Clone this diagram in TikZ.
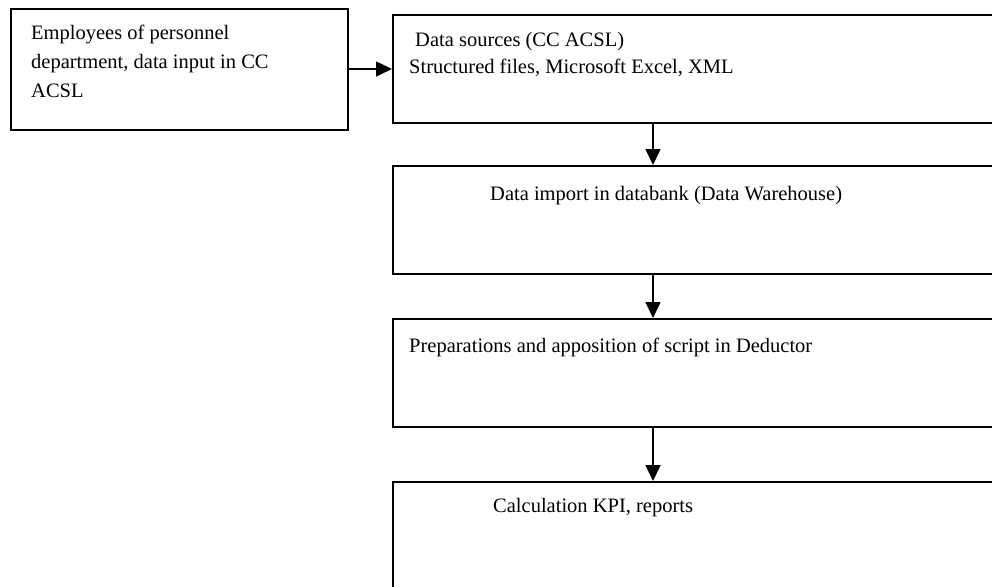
\documentclass[tikz,border=0pt]{standalone}
\usepackage{fontspec}
\setmainfont{Liberation Serif}
\usetikzlibrary{arrows.meta}
\begin{document}
\begin{tikzpicture}[x=1pt,y=-1pt,
  boxstyle/.style={draw=black,line width=2pt,rectangle,inner sep=0pt},
  txt/.style={anchor=base west,inner sep=0pt,font=\fontsize{20.5}{28}\selectfont},
  arr/.style={line width=1.5pt,-{Triangle[width=15pt,length=16pt]}}]
\useasboundingbox (0,0) rectangle (992,586);
\node[boxstyle,minimum width=337pt,minimum height=121pt,anchor=north west] (b1) at (10,8) {};
\node[boxstyle,minimum width=620pt,minimum height=108pt,anchor=north west] (b2) at (392,14) {};
\node[boxstyle,minimum width=620pt,minimum height=108pt,anchor=north west] (b3) at (392,165) {};
\node[boxstyle,minimum width=620pt,minimum height=108pt,anchor=north west] (b4) at (392,318) {};
\node[boxstyle,minimum width=620pt,minimum height=130pt,anchor=north west] (b5) at (392,481) {};
\node[txt] (t1a) at (31,40) {Employees of personnel};
\node[txt] (t1b) at (31,68.5) {department, data input in CC};
\node[txt] (t1c) at (31,97) {ACSL};
\node[txt] (t2a) at (415,47) {Data sources (CC ACSL)};
\node[txt] (t2b) at (409,74) {Structured files, Microsoft Excel, XML};
\node[txt] (t3) at (490,200) {Data import in databank (Data Warehouse)};
\node[txt] (t4) at (409,352) {Preparations and apposition of script in Deductor};
\node[txt] (t5) at (493,512) {Calculation KPI, reports};
\coordinate (c1) at (347,69);
\coordinate (c2) at (392,69);
\draw[arr] (c1) -- (c2);
\draw[arr] (b2.south -| 653,0) -- (b3.north -| 653,0);
\draw[arr] (b3.south -| 653,0) -- (b4.north -| 653,0);
\draw[arr] (b4.south -| 653,0) -- (b5.north -| 653,0);
\end{tikzpicture}
\end{document}
